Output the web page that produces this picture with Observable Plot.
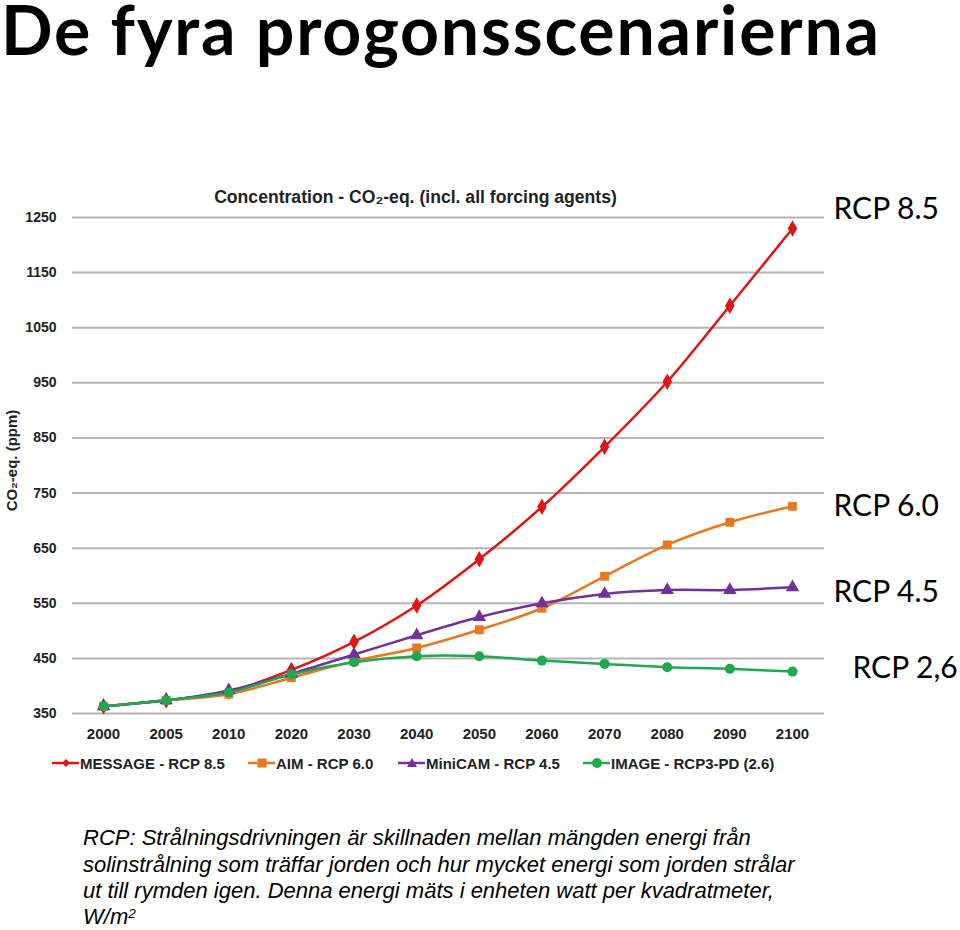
<!DOCTYPE html>
<html><head><meta charset="utf-8">
<script src="https://cdn.jsdelivr.net/npm/d3@7"></script>
<script src="https://cdn.jsdelivr.net/npm/@observablehq/plot@0.6"></script>
<style>
body{margin:0;background:#fff;}
#page{position:relative;width:960px;height:930px;overflow:hidden;background:#fff;}
#title{position:absolute;left:1px;top:0px;font-family:Lato,"Open Sans",sans-serif;font-weight:700;font-size:68px;line-height:58px;letter-spacing:1.8px;color:#000;white-space:nowrap;}
#chart{position:absolute;left:0;top:170px;}
#legend{position:absolute;left:0;top:753px;width:960px;height:20px;font-family:"Liberation Sans",Arial,sans-serif;font-weight:bold;font-size:15px;color:#222;}
#legend .item{position:absolute;top:0;display:flex;align-items:center;white-space:nowrap;height:20px;}
#caption .line{position:absolute;left:83px;font-family:"Liberation Sans",Arial,sans-serif;font-style:italic;font-size:22px;line-height:20px;color:#000;white-space:nowrap;}
#caption sup{font-size:0.62em;line-height:0;vertical-align:baseline;position:relative;top:-0.45em;}
</style></head>
<body>
<div id="page">
  <div id="title"></div>
  <div id="chart"></div>
  <div id="legend"></div>
  <div id="caption"></div>
</div>
<script>
// ---- data ----
const years = ["2000","2005","2010","2020","2030","2040","2050","2060","2070","2080","2090","2100"];
const seriesNames = ["MESSAGE - RCP 8.5","AIM - RCP 6.0","MiniCAM - RCP 4.5","IMAGE - RCP3-PD (2.6)"];
const message85 = [363,374,390,429,480,546,630,725,834,952,1090,1230];
const aim60     = [363,374,385,415,445,469,502,541,599,656,697,726];
const minicam45 = [363,374,392,422,457,492,525,550,567,574,574,579];
const image26   = [363,374,388,421,443,454,454,446,440,434,431,426];
const yTicks = [350,450,550,650,750,850,950,1050,1150,1250];
const rcpLabels = ["RCP 8.5","RCP 6.0","RCP 4.5","RCP 2,6"];
const rcpLabelValues = [1264,726,570,431];
const titleText = "De fyra progonsscenarierna";
const chartTitle = "Concentration - CO\u2082-eq. (incl. all forcing agents)";
const yLabel = "CO\u2082-eq. (ppm)";
const captionLines = [
  "RCP: Strålningsdrivningen är skillnaden mellan mängden energi från",
  "solinstrålning som träffar jorden och hur mycket energi som jorden strålar",
  "ut till rymden igen. Denna energi mäts i enheten watt per kvadratmeter,",
  "W/m<sup>2</sup>"
];

// ---- styles / layout ----
const colors = ["#e01414","#e8781f","#70329a","#20a851"];
const symbols = ["diamond","square","triangle","circle"];
const allValues = [message85, aim60, minicam45, image26];
const legendLefts = [52, 248, 398, 583];
const captionTops = [828, 855, 881, 907];

const rows = seriesNames.flatMap((s, i) => years.map((yr, j) => ({series: s, year: yr, value: allValues[i][j]})));
const labelRows = rcpLabels.map((t, i) => ({text: t, value: rcpLabelValues[i], x: "2100"}));

document.getElementById("title").textContent = titleText;

const plot = Plot.plot({
  width: 960,
  height: 580,
  marginTop: 47,
  marginBottom: 37,
  marginLeft: 72,
  marginRight: 136,
  x: {type: "point", domain: years, range: [103, 792], padding: 0, round: false},
  y: {domain: [350, 1250]},
  color: {domain: seriesNames, range: colors},
  symbol: {domain: seriesNames, range: symbols},
  style: {fontFamily: "'Liberation Sans', Arial, sans-serif", background: "transparent", overflow: "visible"},
  marks: [
    Plot.ruleY(yTicks, {stroke: "#b4b4b4", strokeWidth: 2}),
    Plot.axisY({ticks: yTicks, tickFormat: "d", tickSize: 0, tickPadding: 16, fontSize: 14, fontWeight: "bold", fill: "#222", label: null}),
    Plot.axisX({tickSize: 0, tickPadding: 15, fontSize: 15, fontWeight: "bold", fill: "#222", label: null}),
    Plot.line(rows, {x: "year", y: "value", z: "series", stroke: "series", strokeWidth: 2.5, curve: "catmull-rom"}),
    Plot.dot(rows, {x: "year", y: "value", symbol: "series", fill: "series", r: 5}),
    Plot.text([chartTitle], {frameAnchor: "top", textAnchor: "middle", lineAnchor: "middle", dx: -33, dy: -20, fontSize: 17.6, fontWeight: "bold", fill: "#222"}),
    Plot.text([yLabel], {frameAnchor: "left", textAnchor: "middle", lineAnchor: "middle", dx: -60, dy: -5, rotate: -90, fontSize: 15, fontWeight: "bold", fill: "#222"}),
    Plot.text(labelRows.slice(0, 3), {x: "x", y: "value", text: "text", dx: 41, textAnchor: "start", fontSize: 30, fontFamily: "Lato, sans-serif", fill: "#000"}),
    Plot.text(labelRows.slice(3), {x: "x", y: "value", text: "text", dx: 60, textAnchor: "start", fontSize: 30, fontFamily: "Lato, sans-serif", fill: "#000"})
  ]
});
document.getElementById("chart").appendChild(plot);

// ---- legend ----
const legend = document.getElementById("legend");
const symPaths = {
  diamond: '<path d="M14,6 L18,10 L14,14 L10,10 Z"/>',
  square: '<rect x="9.5" y="5.5" width="9" height="9"/>',
  triangle: '<path d="M14,5 L19,14 L9,14 Z"/>',
  circle: '<circle cx="14" cy="10" r="5"/>'
};
seriesNames.forEach((s, i) => {
  const item = document.createElement("div");
  item.className = "item";
  item.style.left = legendLefts[i] + "px";
  item.innerHTML = `<svg width="28" height="20" viewBox="0 0 28 20"><line x1="0" y1="10" x2="27" y2="10" stroke="${colors[i]}" stroke-width="2.5"/><g fill="${colors[i]}">${symPaths[symbols[i]]}</g></svg><span>${s}</span>`;
  legend.appendChild(item);
});

// ---- caption ----
const caption = document.getElementById("caption");
captionLines.forEach((t, i) => {
  const d = document.createElement("div");
  d.className = "line";
  d.style.top = captionTops[i] + "px";
  d.innerHTML = t;
  caption.appendChild(d);
});
</script>
</body></html>
